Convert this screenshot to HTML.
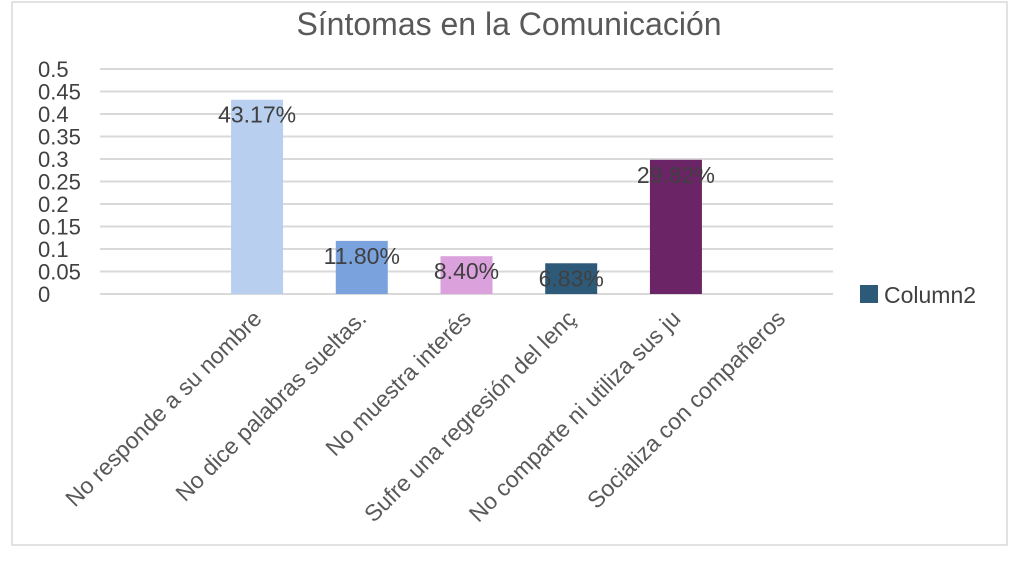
<!DOCTYPE html>
<html><head><meta charset="utf-8"><style>
body{margin:0;background:#fff;}
svg{display:block;font-family:"Liberation Sans",sans-serif;}
</style></head><body>
<svg id="c" width="1022" height="568">
<rect x="12" y="2" width="995" height="543" fill="#fff" stroke="#d9d9d9" stroke-width="1.5"/>
<text x="509" y="35" font-size="32" fill="#595959" text-anchor="middle">Síntomas en la Comunicación</text>
<g id="grid"></g><g id="ylab"></g><g id="bars"></g><g id="vals"></g><g id="xlab"></g>
<rect x="860" y="285" width="18" height="18" fill="#2e5a7a"/>
<text x="884" y="303" font-size="23" fill="#404040">Column2</text>
</svg>
<script>
const categories=["","No responde a su nombre","No dice palabras sueltas.","No muestra interés","Sufre una regresión del lenç","No comparte ni utiliza sus ju","Socializa con compañeros"];
const values=[null,0.4317,0.118,0.084,0.0683,0.2982,null];
const valueLabels=["","43.17%","11.80%","8.40%","6.83%","29.82%",""];
const colors=["","#b8cff0","#7aa3de","#dba1dc","#2e5a7a","#6b2466",""];
const yTicks=[0,0.05,0.1,0.15,0.2,0.25,0.3,0.35,0.4,0.45,0.5];
const NS="http://www.w3.org/2000/svg";
const x0=100,x1=833,y0=294,y1=69,yMax=0.5;
const band=(x1-x0)/categories.length;
const y=v=>y0-(v/yMax)*(y0-y1);
const xc=i=>x0+band*(i+0.5);
function mk(t,a,p){const e=document.createElementNS(NS,t);for(const k in a)e.setAttribute(k,a[k]);document.getElementById(p).appendChild(e);return e;}
yTicks.forEach(t=>{
 const l=mk("line",{x1:x0,x2:x1,y1:y(t),y2:y(t),stroke:"#d9d9d9","stroke-width":2},"grid");
 
 
 const tx=mk("text",{x:38,y:y(t)+8,"font-size":22,fill:"#404040"},"ylab");
 tx.textContent=String(t);
 
 
});
categories.forEach((c,i)=>{
 const v=values[i];
 if(v!=null){
  const r=mk("rect",{x:xc(i)-26,y:y(v),width:52,height:y0-y(v),fill:colors[i]},"bars");
  
  
  const t=mk("text",{x:xc(i),y:y(v)+23,"font-size":23,fill:"#404040","text-anchor":"middle"},"vals");
  t.textContent=valueLabels[i];
  
  
 }
 if(c){
  const cx=xc(i)+6,cy=320;
  const t=mk("text",{x:cx,y:cy,"font-size":23,fill:"#595959","text-anchor":"end",transform:`rotate(-45 ${cx} ${cy})`},"xlab");
  t.textContent=c;
  
  
 }
});
</script>
</body></html>
